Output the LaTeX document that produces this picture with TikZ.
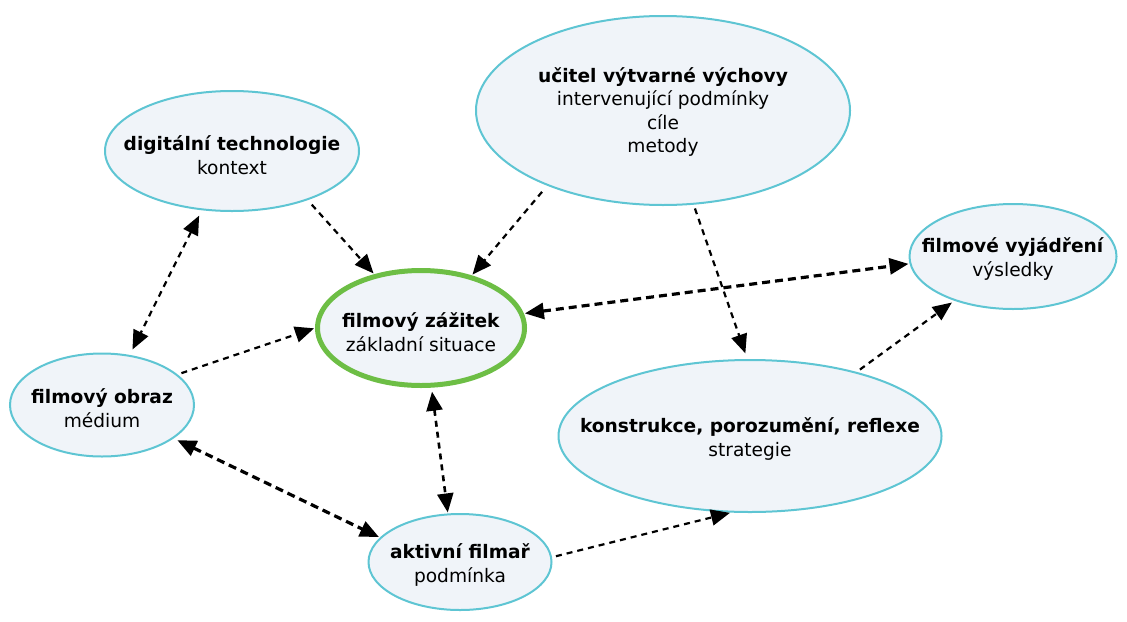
\documentclass[tikz,border=0pt]{standalone}
\usepackage{fontspec}
\setmainfont{DejaVu Sans}
\usetikzlibrary{shapes.geometric,arrows.meta}
\definecolor{bubblefill}{HTML}{F0F4F9}
\definecolor{bubbleline}{HTML}{5EC5D3}
\definecolor{corering}{HTML}{6DBE45}
\tikzset{
  bubble/.style={ellipse, draw=bubbleline, fill=bubblefill, line width=1pt, inner sep=0pt},
  core/.style={ellipse, draw=corering, fill=bubblefill, line width=2.5pt, inner sep=0pt},
  caption/.style={align=center, font=\fontsize{9.3}{11.7}\selectfont, inner sep=0pt, text=black},
  flow/.style={black, line width=1.1pt, dash pattern=on 3pt off 2.5pt, -{Triangle[length=9.5pt,width=8pt]}, shorten <=2pt, shorten >=0.5pt},
  both/.style={black, line width=1.1pt, dash pattern=on 3pt off 2.5pt, {Triangle[length=9.5pt,width=8pt]}-{Triangle[length=9.5pt,width=8pt]}, shorten <=0.5pt, shorten >=0.5pt},
  heavy/.style={line width=1.6pt, dash pattern=on 4pt off 2.5pt}
}
\begin{document}
\begin{tikzpicture}[x=0.5pt,y=-0.5pt]
  \useasboundingbox (0,0) rectangle (1127,621);

  % ellipses
  \node[bubble, minimum width=127pt, minimum height=60pt] (D) at (232,151) {};
  \node[bubble, minimum width=187pt, minimum height=94.5pt] (U) at (663,110.5) {};
  \node[bubble, minimum width=103.5pt, minimum height=52.5pt] (V) at (1013,256.5) {};
  \node[core, minimum width=103.5pt, minimum height=57.5pt] (Z) at (421,328) {};
  \node[bubble, minimum width=92pt, minimum height=51.5pt] (O) at (102,405) {};
  \node[bubble, minimum width=191.5pt, minimum height=76pt] (K) at (750,436) {};
  \node[bubble, minimum width=91.5pt, minimum height=48pt] (A) at (460,562) {};

  % captions
  \node[caption] (Dt) at (232,155) {\textbf{digitální technologie}\\kontext};
  \node[caption] (Ut) at (663,112) {\textbf{učitel výtvarné výchovy}\\intervenující podmínky\\cíle\\metody};
  \node[caption] (Vt) at (1013,259) {\textbf{filmové vyjádření}\\výsledky};
  \node[caption] (Zt) at (421,332) {\textbf{filmový zážitek}\\základní situace};
  \node[caption] (Ot) at (102,408) {\textbf{filmový obraz}\\médium};
  \node[caption] (Kt) at (750,439) {\textbf{konstrukce, porozumění, reflexe}\\strategie};
  \node[caption] (At) at (460,565) {\textbf{aktivní filmař}\\podmínka};

  % connectors
  \draw[both, shorten <=3pt, shorten >=3pt] (D.-117) -- (O.61);
  \draw[flow, shorten <=3pt] (D.-33) -- (Z.131);
  \draw[flow] (O.22) -- (Z.180);
  \draw[flow, shorten <=4pt] (U.-147) -- (Z.46);
  \draw[flow, shorten >=3pt] (U.-72) -- (K.92);
  \draw[both, heavy] (Z.8) -- (V.184);
  \draw[both, line width=1.3pt, shorten <=2pt] (Z.-80) -- (A.104);
  \draw[both, heavy, shorten <=2pt] (O.-25) -- (A.163);
  \draw[flow] (A.3) -- (K.-104);
  \draw[flow, shorten >=1.5pt] (K.31) -- (V.217);
\end{tikzpicture}
\end{document}
